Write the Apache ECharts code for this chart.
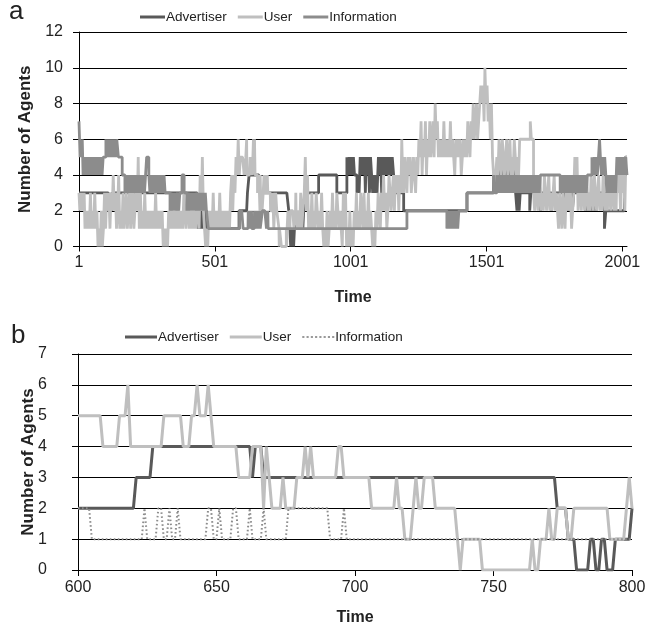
<!DOCTYPE html>
<html>
<head>
<meta charset="utf-8">
<script src="https://cdn.jsdelivr.net/npm/echarts@6/dist/echarts.min.js"></script>
<style>
html,body{margin:0;padding:0;background:#fff;}
#chart{width:652px;height:629px;}
</style>
</head>
<body>
<div id="chart"></div>
<script>
// ---------- shared labels ----------
const seriesNames = ['Advertiser', 'User', 'Information'];
const ticksA = [1, 501, 1001, 1501, 2001];
const ticksB = [600, 650, 700, 750, 800];

// ---------- panel b: values for t = 600..800 ----------
const advB = [
  2,2,2,2,2,2,2,2,2,2, 2,2,2,2,2,2,2,2,2,2,
  2,3,3,3,3,3,3,4,4,4, 4,4,4,4,4,4,4,4,4,4,
  4,4,4,4,4,4,4,4,4,4, 4,4,4,4,4,4,4,4,4,4,
  4,4,4,3,4,4,4,3,3,3, 3,3,3,3,3,3,3,3,3,3,
  3,3,3,3,3,3,3,3,3,3, 3,3,3,3,3,3,3,3,3,3,
  3,3,3,3,3,3,3,3,3,3, 3,3,3,3,3,3,3,3,3,3,
  3,3,3,3,3,3,3,3,3,3, 3,3,3,3,3,3,3,3,3,3,
  3,3,3,3,3,3,3,3,3,3, 3,3,3,3,3,3,3,3,3,3,
  3,3,3,3,3,3,3,3,3,3, 3,3,3,2,2,2,2,1,1,1,
  0,0,0,0,0,1,1,0,0,1, 1,0,0,0,1,1,1,1,1,1,
  2
];
const userB = [
  5,5,5,5,5,5,5,5,5,4, 4,4,4,4,4,5,5,5,6,4,
  4,4,4,4,4,4,4,4,4,4, 4,5,5,5,5,5,5,5,4,4,
  4,5,5,6,5,5,5,6,5,4, 4,4,4,4,4,4,4,4,3,3,
  3,3,3,4,4,4,4,2,4,3, 2,2,2,2,3,2,2,2,2,3,
  3,3,4,3,4,3,3,3,3,3, 3,3,3,3,4,4,3,3,3,3,
  3,3,3,3,3,3,2,2,2,2, 2,2,2,2,2,3,2,2,1,1,
  1,2,3,2,2,3,3,3,3,2, 2,2,2,2,2,2,2,1,0,1,
  1,1,1,1,1,1,0,0,0,0, 0,0,0,0,0,0,0,0,0,0,
  0,0,0,0,1,0,0,1,1,1, 2,1,1,2,2,2,2,1,1,2,
  2,2,2,2,2,2,2,2,2,2, 2,2,1,1,1,1,1,1,2,3,
  2
];
const infoB = [
  2,2,2,2,2,1,1,1,1,1, 1,1,1,1,1,1,1,1,1,1,
  1,1,1,1,2,1,1,1,1,2, 2,1,1,2,1,1,2,1,1,1,
  1,1,1,1,1,1,1,2,2,1, 1,2,1,1,1,1,2,2,1,1,
  1,1,2,1,1,1,1,2,1,1, 1,1,1,1,1,1,2,2,2,2,
  2,2,2,2,2,2,2,2,2,2, 2,1,1,1,1,1,2,1,1,1,
  1,1,1,1,1,1,1,1,1,1, 1,1,1,1,1,1,1,1,1,1,
  1,1,1,1,1,1,1,1,1,1, 1,1,1,1,1,1,1,1,1,1,
  1,1,1,1,1,1,1,1,1,1, 1,1,1,1,1,1,1,1,1,1,
  1,1,1,1,1,1,1,1,1,1, 1,1,1,1,1,1,1,1,1,1,
  1,1,1,1,1,1,1,1,1,1, 1,1,1,1,1,1,1,1,1,1,
  1
];

// ---------- panel a: change points [time, value] outside 600..800 ----------
const advPre = [[1,3],[109,2],[112,3],[115,2],[118,3],[121,2],[124,3],[436,2],[440,1],[444,2],[448,1],[452,2],[456,1],[460,2],[464,1],[468,2],[472,1],[590,2]];
const advPost = [[801,1],[805,2],[809,1],[813,2],[817,1],[821,2],[825,1],[828,2],[835,3],[883,4],[950,3],[987,5],[991,4],[995,5],[999,4],[1003,5],[1007,4],[1011,5],[1015,4],[1024,3],[1028,4],[1032,3],[1036,5],[1040,4],[1044,5],[1048,4],[1052,5],[1055,3],[1058,5],[1062,4],[1066,5],[1070,3],[1074,5],[1078,4],[1082,3],[1086,4],[1090,3],[1094,4],[1098,3],[1103,5],[1107,4],[1111,5],[1115,3],[1119,5],[1123,4],[1128,5],[1132,4],[1136,5],[1140,4],[1146,5],[1150,4],[1154,5],[1159,4],[1165,3],[1196,2],[1429,3],[1527,4],[1545,5],[1549,4],[1553,5],[1557,4],[1561,5],[1565,4],[1569,5],[1573,4],[1582,5],[1586,4],[1590,5],[1594,4],[1598,5],[1602,4],[1608,3],[1613,2],[1617,3],[1621,2],[1625,3],[1660,2],[1664,3],[1700,2],[1704,3],[1740,2],[1744,3],[1785,2],[1789,3],[1793,2],[1797,3],[1801,2],[1805,3],[1809,2],[1813,3],[1817,2],[1822,3],[1865,2],[1869,3],[1873,2],[1877,3],[1881,2],[1885,3],[1889,2],[1893,3],[1897,2],[1901,3],[1905,2],[1908,3],[1935,1],[1940,2],[2008,4],[2012,5],[2018,5]];

const userPre = [[1,3],[4,2],[7,3],[10,2],[13,3],[16,2],[20,3],[23,1],[27,2],[31,1],[35,2],[39,1],[43,3],[47,1],[51,2],[55,1],[59,3],[63,1],[67,2],[71,0],[75,1],[79,0],[83,2],[87,0],[91,1],[95,3],[99,1],[103,3],[107,2],[111,3],[115,1],[119,3],[123,2],[127,4],[131,2],[135,3],[139,1],[143,2],[147,4],[151,1],[155,2],[159,1],[163,3],[167,1],[171,2],[175,3],[179,1],[183,2],[187,3],[191,1],[195,2],[199,4],[203,1],[207,2],[211,3],[215,2],[219,5],[223,1],[227,3],[231,1],[235,2],[239,1],[243,3],[247,1],[251,2],[255,1],[259,2],[263,1],[267,2],[271,1],[275,2],[279,1],[283,3],[287,1],[291,2],[295,1],[299,2],[303,1],[307,2],[311,0],[315,1],[319,0],[323,1],[327,0],[331,2],[335,1],[339,3],[343,1],[347,2],[351,1],[355,2],[359,1],[363,3],[367,1],[371,2],[375,1],[379,2],[383,1],[387,3],[391,2],[395,1],[399,2],[403,3],[407,1],[411,2],[415,1],[419,2],[423,1],[427,2],[431,1],[435,3],[439,2],[443,1],[447,4],[451,2],[455,5],[459,2],[463,1],[467,0],[471,1],[475,0],[479,2],[483,1],[487,2],[491,1],[495,3],[499,1],[503,2],[507,1],[511,2],[515,1],[519,3],[523,1],[527,2],[531,1],[535,2],[539,1],[543,2],[547,1],[551,2],[555,1],[559,3],[563,4],[567,2],[571,4],[575,3],[579,5],[583,4],[587,6],[591,4],[595,5]];
const userPost = [[801,2],[805,1],[809,2],[813,1],[817,3],[821,1],[825,2],[830,3],[834,5],[838,2],[842,4],[846,1],[850,2],[854,1],[858,3],[862,1],[866,2],[870,1],[874,3],[878,2],[882,1],[886,2],[890,1],[894,3],[898,1],[902,0],[906,1],[910,0],[914,2],[918,0],[922,1],[926,2],[930,1],[934,3],[938,1],[942,2],[946,1],[950,3],[954,2],[958,1],[962,2],[966,1],[970,0],[974,3],[978,1],[982,3],[986,0],[990,1],[994,0],[998,2],[1002,0],[1006,1],[1010,0],[1014,2],[1018,1],[1022,3],[1026,1],[1030,2],[1034,1],[1038,3],[1042,2],[1046,1],[1050,3],[1054,1],[1058,2],[1062,1],[1066,3],[1070,1],[1074,2],[1078,1],[1082,0],[1086,1],[1090,0],[1094,2],[1098,1],[1102,3],[1106,2],[1110,1],[1114,3],[1118,2],[1122,4],[1126,2],[1130,3],[1134,1],[1138,2],[1142,4],[1146,3],[1150,2],[1154,3],[1158,4],[1162,2],[1166,4],[1170,3],[1174,4],[1178,2],[1182,4],[1186,3],[1189,6],[1192,4],[1196,3],[1200,5],[1204,4],[1208,3],[1212,5],[1216,4],[1220,5],[1224,3],[1228,4],[1232,5],[1236,4],[1240,3],[1244,5],[1248,4],[1252,6],[1256,5],[1260,7],[1264,4],[1268,6],[1272,5],[1276,7],[1280,4],[1284,6],[1288,5],[1292,7],[1296,5],[1300,6],[1304,7],[1308,5],[1312,8],[1316,6],[1320,7],[1324,5],[1328,6],[1332,5],[1336,6],[1340,5],[1344,7],[1348,5],[1352,6],[1356,5],[1360,6],[1364,5],[1368,7],[1372,5],[1376,6],[1380,5],[1384,4],[1388,6],[1392,5],[1396,6],[1400,5],[1404,6],[1408,4],[1412,5],[1416,6],[1420,5],[1424,6],[1428,5],[1432,7],[1436,6],[1440,5],[1444,7],[1448,6],[1452,8],[1456,6],[1460,7],[1464,8],[1468,6],[1472,7],[1476,8],[1480,9],[1484,8],[1488,9],[1492,7],[1495,10],[1499,8],[1503,9],[1507,7],[1511,8],[1515,6],[1519,8],[1523,5],[1527,4],[1531,3],[1535,4],[1539,5],[1543,4],[1547,6],[1551,5],[1555,4],[1559,6],[1563,5],[1567,4],[1571,5],[1575,6],[1579,4],[1583,5],[1587,6],[1591,4],[1595,5],[1599,4],[1603,6],[1607,5],[1611,4],[1615,5],[1619,4],[1623,6],[1662,7],[1666,6],[1674,3],[1678,2],[1682,4],[1686,3],[1690,2],[1694,3],[1698,4],[1702,2],[1706,3],[1710,2],[1714,4],[1718,3],[1722,2],[1726,3],[1730,4],[1734,2],[1738,3],[1742,2],[1746,3],[1750,4],[1754,2],[1758,3],[1762,2],[1766,1],[1770,3],[1774,2],[1778,1],[1782,3],[1786,2],[1790,1],[1794,3],[1798,2],[1802,4],[1806,2],[1810,3],[1814,1],[1818,2],[1822,3],[1826,5],[1830,3],[1834,5],[1838,2],[1842,4],[1846,3],[1850,2],[1854,4],[1858,3],[1862,2],[1866,3],[1870,4],[1874,2],[1878,3],[1882,2],[1886,4],[1890,3],[1894,2],[1898,4],[1902,3],[1906,2],[1910,3],[1914,4],[1918,2],[1922,3],[1926,2],[1930,4],[1934,3],[1938,2],[1942,3],[1946,2],[1950,4],[1954,3],[1958,2],[1962,3],[1966,4],[1970,2],[1974,3],[1978,2],[1982,5],[1986,3],[1990,4],[1994,2],[1998,5],[2002,3],[2006,4],[2010,2],[2014,5],[2018,5]];

const infoPre = [[1,7],[3,6],[5,5],[7,6],[10,5],[13,6],[16,4],[19,5],[22,4],[26,5],[30,4],[34,5],[38,4],[42,5],[46,4],[50,5],[54,4],[58,5],[62,4],[66,5],[70,4],[74,5],[78,4],[82,5],[86,4],[90,5],[100,6],[104,5],[108,6],[112,5],[116,6],[120,5],[124,6],[128,5],[132,6],[136,5],[140,6],[146,5],[160,4],[170,3],[174,4],[178,3],[182,4],[186,3],[190,4],[194,3],[198,4],[202,3],[206,4],[210,3],[214,4],[218,3],[222,4],[226,3],[230,4],[234,3],[238,4],[242,3],[246,4],[250,5],[258,4],[262,3],[266,4],[270,3],[274,4],[278,3],[282,4],[286,3],[290,4],[294,3],[298,4],[302,3],[306,4],[310,3],[314,4],[318,3],[336,2],[340,3],[344,2],[348,3],[352,2],[356,3],[360,2],[364,3],[368,2],[372,3],[380,4],[388,3],[398,2],[402,3],[406,2],[410,3],[414,2],[418,3],[422,2],[426,3],[430,2],[434,3],[438,2],[442,3],[446,2],[450,3],[454,2],[458,3],[462,2],[466,3],[470,2],[477,1],[592,2]];
const infoPost = [[801,1],[1208,2],[1355,1],[1359,2],[1363,1],[1367,2],[1371,1],[1375,2],[1379,1],[1383,2],[1387,1],[1391,2],[1395,1],[1399,2],[1429,3],[1527,4],[1531,3],[1539,4],[1543,3],[1547,4],[1551,3],[1555,4],[1559,3],[1563,4],[1567,3],[1571,4],[1575,3],[1579,4],[1583,3],[1587,4],[1591,3],[1595,4],[1599,3],[1603,4],[1607,3],[1611,4],[1615,3],[1619,4],[1623,3],[1627,4],[1631,3],[1635,4],[1639,3],[1643,4],[1647,3],[1651,4],[1655,3],[1659,4],[1663,3],[1667,4],[1671,3],[1675,4],[1679,3],[1683,4],[1687,3],[1691,4],[1695,3],[1699,4],[1772,3],[1776,4],[1780,3],[1784,4],[1788,3],[1792,4],[1796,3],[1800,4],[1804,3],[1808,4],[1812,3],[1816,4],[1820,3],[1824,4],[1828,3],[1832,4],[1836,3],[1840,4],[1844,3],[1848,4],[1852,3],[1856,4],[1860,3],[1864,4],[1868,3],[1872,4],[1889,5],[1893,4],[1897,5],[1901,4],[1905,5],[1909,4],[1913,5],[1917,6],[1920,5],[1924,4],[1928,5],[1932,4],[1936,5],[1940,4],[1944,3],[1948,4],[1952,3],[1956,4],[1960,3],[1964,4],[1968,3],[1972,4],[1976,3],[1981,5],[1985,4],[1989,5],[1993,4],[1997,5],[2001,4],[2005,5],[2009,4],[2013,5],[2018,4]];

// ---------- build ----------
const B_START = 600;
function withTime(arr) { return arr.map((v, i) => [B_START + i, v]); }
function buildA(pre, bVals, post) { return pre.concat(withTime(bVals), post); }

const FONT = "'Liberation Sans', Arial, sans-serif";
const colors = { adv: '#595959', user: '#bfbfbf', info: '#8c8c8c' };
const txt = '#222';
const DOTS = 'path://M0 0h2v2H0z M4 0h2v2H4z M8 0h2v2H8z M12 0h2v2h-2z M16 0h2v2h-2z M20 0h2v2h-2z M24 0h2v2h-2z M28 0h2v2h-2z';

const chart = echarts.init(document.getElementById('chart'), null, { renderer: 'canvas' });

function yAxisCfg(gridIndex, max, interval, margin, nameGap) {
  return {
    type: 'value', gridIndex, min: 0, max, interval,
    name: 'Number of Agents', nameLocation: 'middle', nameGap, nameRotate: 90, nameMoveOverlap: false,
    nameTextStyle: { fontFamily: FONT, fontWeight: 'bold', fontSize: 17, color: txt },
    axisLine: { show: true, lineStyle: { color: '#000', width: 1 } },
    axisTick: { show: true, inside: false, length: 6, lineStyle: { color: '#000' } },
    axisLabel: { fontFamily: FONT, fontSize: 16, color: txt, margin, formatter: v => String(v) },
    splitLine: { show: true, lineStyle: { color: '#000', width: 1 } }
  };
}
function legendCfg(left, top, iw, gap, items) {
  return {
    left, top, padding: 0, itemWidth: iw, itemHeight: 3, itemGap: gap, selectedMode: false,
    textStyle: { fontFamily: FONT, fontSize: 13.5, color: txt, padding: [0, 0, 0, -4] },
    data: items
  };
}

const option = {
  animation: false,
  backgroundColor: '#fff',
  graphic: [
    { type: 'text', left: 9, top: -1, style: { text: 'a', font: "26px 'Liberation Sans', Arial", fill: '#222' } },
    { type: 'text', left: 11, top: 323, style: { text: 'b', font: "26px 'Liberation Sans', Arial", fill: '#222' } }
  ],
  legend: [
    legendCfg(140, 10, 25, 11, seriesNames.map(n => ({ name: n, icon: 'rect' }))),
    legendCfg(125, 330, 32, 11, [
      { name: seriesNames[0], icon: 'rect' },
      { name: seriesNames[1], icon: 'rect' },
      { name: seriesNames[2], icon: DOTS, itemStyle: { color: '#999' } }
    ])
  ],
  grid: [
    { left: 79, top: 32, width: 548, height: 214.5, outerBoundsMode: 'none', containLabel: false },
    { left: 78, top: 354, width: 554, height: 216, outerBoundsMode: 'none', containLabel: false }
  ],
  xAxis: [
    {
      type: 'value', gridIndex: 0, min: 1, max: 2018,
      name: 'Time', nameLocation: 'middle', nameGap: 43,
      nameTextStyle: { fontFamily: FONT, fontWeight: 'bold', fontSize: 16, color: txt, verticalAlign: 'top' },
      axisLine: { show: true, onZero: false, lineStyle: { color: '#000', width: 1 } },
      axisTick: { show: true, length: 5, customValues: ticksA, lineStyle: { color: '#000' } },
      axisLabel: { fontFamily: FONT, fontSize: 16, color: txt, margin: 8, customValues: ticksA, formatter: v => String(v) },
      splitLine: { show: false }
    },
    {
      type: 'value', gridIndex: 1, min: 600, max: 800, interval: 50,
      name: 'Time', nameLocation: 'middle', nameGap: 40,
      nameTextStyle: { fontFamily: FONT, fontWeight: 'bold', fontSize: 16, color: txt, verticalAlign: 'top' },
      axisLine: { show: true, onZero: false, lineStyle: { color: '#000', width: 1 } },
      axisTick: { show: true, length: 6, customValues: ticksB, lineStyle: { color: '#000' } },
      axisLabel: { fontFamily: FONT, fontSize: 16, color: txt, margin: 10, customValues: ticksB, formatter: v => String(v) },
      splitLine: { show: false }
    }
  ],
  yAxis: [
    yAxisCfg(0, 12, 2, 16, 45),
    yAxisCfg(1, 7, 1, 31, 41)
  ],
  series: [
    { name: seriesNames[0], type: 'line', xAxisIndex: 0, yAxisIndex: 0, step: 'end', showSymbol: false, symbol: 'none',
      lineStyle: { color: colors.adv, width: 2.8 }, itemStyle: { color: colors.adv }, z: 2,
      data: buildA(advPre, advB, advPost) },
    { name: seriesNames[1], type: 'line', xAxisIndex: 0, yAxisIndex: 0, step: 'end', showSymbol: false, symbol: 'none',
      lineStyle: { color: colors.user, width: 2.8 }, itemStyle: { color: colors.user }, z: 3,
      data: buildA(userPre, userB, userPost) },
    { name: seriesNames[2], type: 'line', xAxisIndex: 0, yAxisIndex: 0, step: 'end', showSymbol: false, symbol: 'none',
      lineStyle: { color: colors.info, width: 2.8 }, itemStyle: { color: colors.info }, z: 4,
      data: buildA(infoPre, infoB, infoPost) },

    { name: seriesNames[0], type: 'line', xAxisIndex: 1, yAxisIndex: 1, showSymbol: false, symbol: 'none',
      lineStyle: { color: colors.adv, width: 3 }, itemStyle: { color: colors.adv }, z: 2,
      data: withTime(advB) },
    { name: seriesNames[1], type: 'line', xAxisIndex: 1, yAxisIndex: 1, showSymbol: false, symbol: 'none',
      lineStyle: { color: colors.user, width: 3 }, itemStyle: { color: colors.user }, z: 3,
      data: withTime(userB) },
    { name: seriesNames[2], type: 'line', xAxisIndex: 1, yAxisIndex: 1, showSymbol: false, symbol: 'none',
      lineStyle: { color: '#8c8c8c', width: 2, type: [1.6, 2.4] }, itemStyle: { color: '#8c8c8c' }, z: 4,
      data: withTime(infoB) }
  ]
};
chart.setOption(option);
</script>
</body>
</html>
